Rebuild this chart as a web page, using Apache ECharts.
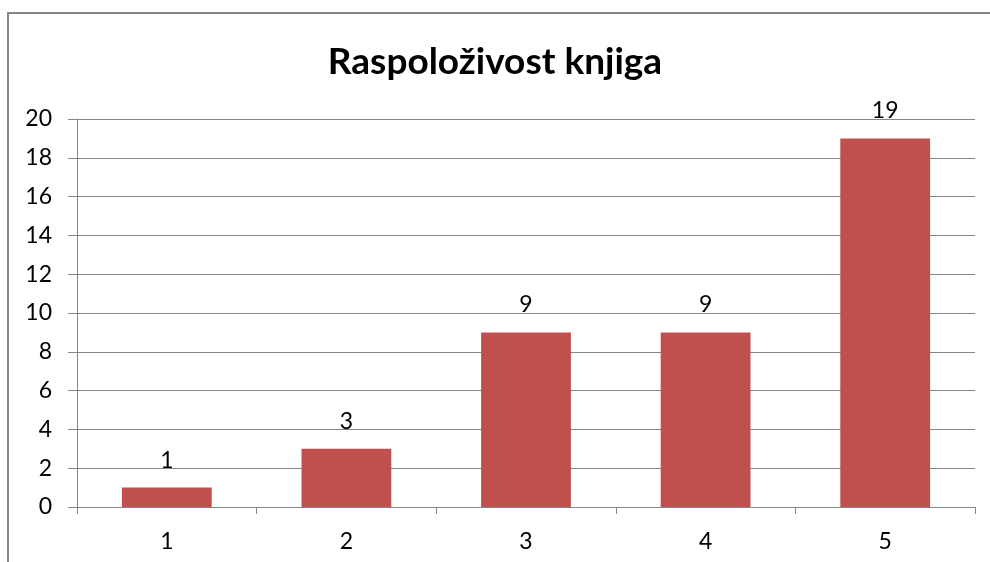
<!DOCTYPE html>
<html>
<head>
<meta charset="utf-8">
<script src="https://cdn.jsdelivr.net/npm/echarts@6/dist/echarts.min.js"></script>
<style>html,body{margin:0;padding:0;background:#fff}#c{width:990px;height:562px}</style>
</head>
<body>
<div id="c"></div>
<script>
var titleText = 'Raspoloživost knjiga';
var categories = ['1', '2', '3', '4', '5'];
var values = [1, 3, 9, 9, 19];
var yMin = 0, yMax = 20, yInterval = 2;

var chart = echarts.init(document.getElementById('c'));
var font = 'Lato';
chart.setOption({
  backgroundColor: '#ffffff',
  animation: false,
  title: {
    text: titleText,
    left: 'center',
    top: 39,
    textStyle: { fontFamily: font, fontWeight: 'bold', fontSize: 37, color: '#000' }
  },
  graphic: [{
    type: 'rect',
    shape: { x: 8, y: 13, width: 1100, height: 700 },
    style: { fill: 'none', stroke: '#858585', lineWidth: 2 },
    silent: true
  }],
  grid: { left: 77, right: 15, top: 119, bottom: 55 },
  xAxis: {
    type: 'category',
    data: categories,
    boundaryGap: true,
    axisLine: { lineStyle: { color: '#868686', width: 1 } },
    axisTick: { show: true, length: 7, lineStyle: { color: '#868686' } },
    axisLabel: { fontFamily: font, fontSize: 23, color: '#000', margin: 23 },
    splitLine: { show: false }
  },
  yAxis: {
    type: 'value',
    min: yMin, max: yMax, interval: yInterval,
    axisLine: { show: true, lineStyle: { color: '#868686', width: 1 } },
    axisTick: { show: true, length: 9, lineStyle: { color: '#868686' } },
    axisLabel: { fontFamily: font, fontSize: 23, color: '#000', margin: 25 },
    splitLine: { show: true, lineStyle: { color: '#868686', width: 1 } }
  },
  series: [{
    type: 'bar',
    data: values,
    barWidth: '50%',
    itemStyle: { color: '#C0504D' },
    label: {
      show: true, position: 'top', distance: 16,
      fontFamily: font, fontSize: 23, color: '#000'
    }
  }]
});
</script>
</body>
</html>
